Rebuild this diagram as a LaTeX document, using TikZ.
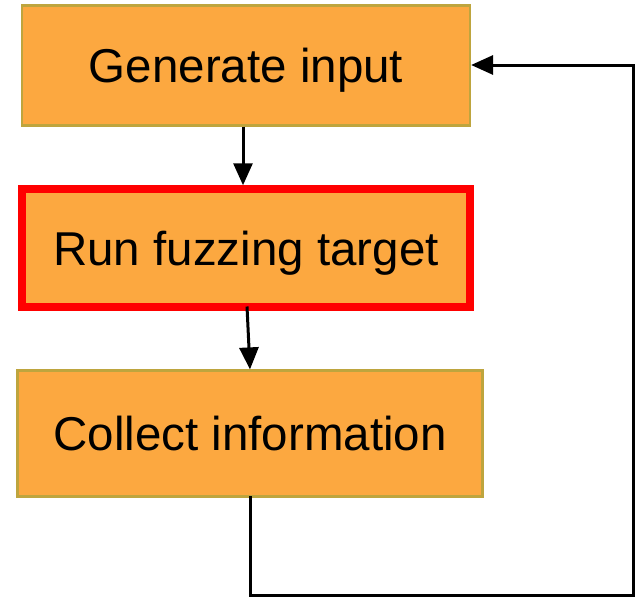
\documentclass[tikz,border=0pt]{standalone}
\usepackage{fontspec}
\setmainfont{Liberation Sans}
\usetikzlibrary{arrows.meta}
\definecolor{boxfill}{RGB}{252,168,64}
\definecolor{boxedge}{RGB}{190,165,62}
\definecolor{hot}{RGB}{255,0,0}
\begin{document}
\begin{tikzpicture}[x=1pt,y=-1pt,
  stage/.style={draw=boxedge,line width=2.2pt,fill=boxfill,inner sep=0pt,
    text height=34pt,text depth=0pt,
    font=\fontsize{47.5}{56}\selectfont},
  flow/.style={line width=3pt,-{Triangle[length=22pt,width=19pt]}}]
\useasboundingbox (0,0) rectangle (637,598);
% the three stages of the loop
\node[stage,minimum width=448pt,minimum height=120pt] (gen) at (246,65.5) {Generate input};
\node[stage,draw=hot,line width=7.5pt,minimum width=448pt,minimum height=118pt] (run) at (246,248) {Run fuzzing target};
\node[stage,minimum width=465pt,minimum height=126pt] (col) at (250,433.5) {Collect information};
% forward arrows
\draw[flow] (gen.south -| 243,0) -- (run.north -| 243,0);
\coordinate (r2) at (247,306.5);
\draw[flow] (r2) -- (col.north);
% feedback loop back to the first stage
\coordinate (lb) at (250,595);
\coordinate (rb) at (633,595);
\coordinate (rt) at (633,65);
\draw[flow,line cap=rect] (col.south) -- (lb) -- (rb) -- (rt) -- (gen.east |- rt);
\end{tikzpicture}
\end{document}
